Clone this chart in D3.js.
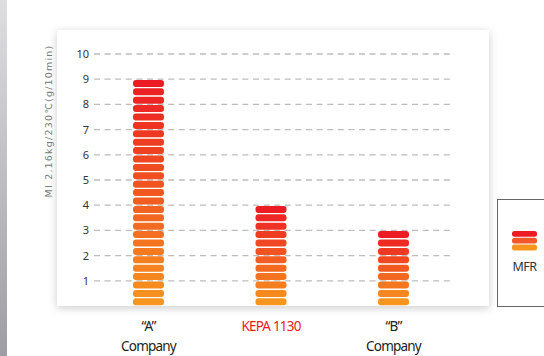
<!DOCTYPE html>
<html><head><meta charset="utf-8">
<script src="https://cdn.jsdelivr.net/npm/d3@7"></script>
<style>body{margin:0;background:#fff;overflow:hidden}svg{display:block}</style>
</head><body>
<svg id="c" width="544" height="356"></svg>
<script>
const categories = ["A", "KEPA 1130", "B"];
const labelLines = [["\u201CA\u201D", "Company"], ["KEPA 1130"], ["\u201CB\u201D", "Company"]];
const mfrValues = [9, 4, 3];
const yTicks = [1,2,3,4,5,6,7,8,9,10];
const segmentsPerUnit = 3;
const legendLabel = "MFR";
const yTitle = "MI 2.16kg/230\u2103(g/10min)";

const svg = d3.select("#c");
const defs = svg.append("defs");
const lg = defs.append("linearGradient").attr("id","strip").attr("x1",0).attr("y1",0).attr("x2",0).attr("y2",1);
lg.append("stop").attr("offset","0%").attr("stop-color","#dedee1");
lg.append("stop").attr("offset","100%").attr("stop-color","#9d9da3");
const f = defs.append("filter").attr("id","sh").attr("x","-10%").attr("y","-10%").attr("width","120%").attr("height","125%");
f.append("feDropShadow").attr("dx",0).attr("dy",2).attr("stdDeviation",4).attr("flood-color","#000").attr("flood-opacity",0.2);

svg.append("rect").attr("x",0).attr("y",0).attr("width",7).attr("height",356).attr("fill","url(#strip)");

// panel
svg.append("rect").attr("x",57).attr("y",30).attr("width",432).attr("height",276).attr("fill","#fff").attr("filter","url(#sh)");

const y = d3.scaleLinear().domain([0,10]).range([306,54]);
const x = d3.scalePoint().domain(categories).range([148.5,393.5]);

// grid
svg.append("g").selectAll("line").data(yTicks).join("line")
  .attr("x1",94).attr("x2",452).attr("y1",d=>y(d)).attr("y2",d=>y(d))
  .attr("stroke","#bdbdbd").attr("stroke-width",1.3).attr("stroke-dasharray","6,4.6");

// tick labels
svg.append("g").selectAll("text").data(yTicks).join("text")
  .attr("x",89).attr("y",d=>y(d)+4).attr("text-anchor","end")
  .attr("font-family","Noto Sans, sans-serif").attr("font-size",11).attr("fill","#333").text(d=>d);

// y title
svg.append("text").attr("transform","translate(52,121) rotate(-90)").attr("text-anchor","middle")
  .attr("font-family","DejaVu Sans, sans-serif").attr("font-size",9.5).attr("letter-spacing",1.2)
  .attr("fill","#777").text(yTitle);

const colorAt = d3.interpolateRgb("#f7951e","#ec1c24");
const barW = 31;
const pitch = y(0) - y(1/segmentsPerUnit);

categories.forEach((c,i)=>{
  const n = Math.round(mfrValues[i]*segmentsPerUnit);
  const segs = d3.range(n);
  svg.append("g").selectAll("rect").data(segs).join("rect")
    .attr("x", x(c)-barW/2).attr("width", barW)
    .attr("y", k=>y((k+1)/segmentsPerUnit)+0.7)
    .attr("height", pitch-1.4)
    .attr("rx",3).attr("ry",3)
    .attr("fill", k=> colorAt(n>1 ? k/(n-1) : 1));
});

// x labels
categories.forEach((c,i)=>{
  const t = svg.append("text").attr("text-anchor","middle")
    .attr("font-family","Noto Sans, sans-serif").attr("font-size",13.5).attr("letter-spacing",-0.8)
    .attr("fill", c==="KEPA 1130" ? "#ed1c24" : "#222");
  labelLines[i].forEach((l,j)=>{
    t.append("tspan").attr("x",x(c)).attr("y",331+j*19.5).text(l);
  });
});

// legend
svg.append("rect").attr("x",497.5).attr("y",199.5).attr("width",60).attr("height",107)
  .attr("fill","#fff").attr("stroke","#666").attr("stroke-width",1);
const legCols = ["#ec1c24","#f2572a","#f7951e"];
svg.append("g").selectAll("rect").data(legCols).join("rect")
  .attr("x",512).attr("width",25).attr("y",(d,k)=>231+k*6.8).attr("height",5.8)
  .attr("rx",2.5).attr("fill",d=>d);
svg.append("text").attr("x",524.5).attr("y",271).attr("text-anchor","middle")
  .attr("font-family","Noto Sans, sans-serif").attr("font-size",12.5).attr("letter-spacing",-0.6)
  .attr("fill","#333").text(legendLabel);
</script>
</body></html>
